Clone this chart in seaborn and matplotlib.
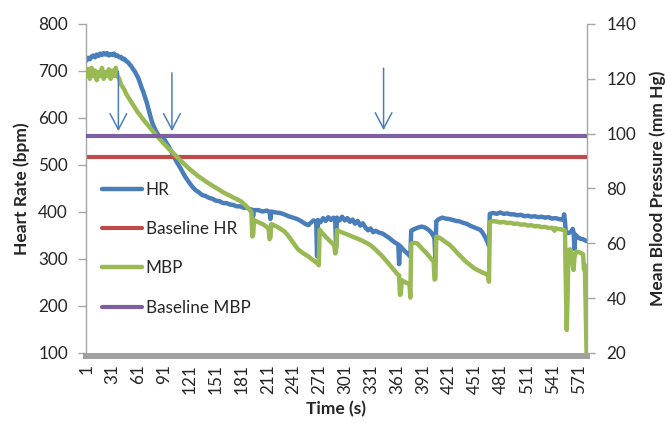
import matplotlib
matplotlib.use("Agg")
import matplotlib.pyplot as plt
import seaborn as sns

# Heart rate (bpm)
hr_time = [1, 3, 5, 7, 9, 11, 13, 15, 17, 19, 21, 23, 25, 27, 29, 31, 33, 35, 37, 39,
           41, 43, 45, 47, 49, 51, 53, 55, 57, 59, 61, 63, 65, 67, 69, 71, 73, 75, 77, 79,
           81, 83, 85, 87, 89, 91, 93, 95, 97, 99, 101, 103,
           106, 109, 112, 115, 118, 121, 124, 127, 131, 135, 139, 143, 147, 151, 155, 159,
           163, 167, 171, 175, 179, 183, 187, 190, 193,
           194, 195, 200, 205, 210, 213, 214, 215, 220, 225,
           230, 235, 240, 245, 250, 255, 258, 260, 264, 267,
           268, 269, 272, 275, 278, 281, 284, 287, 289, 290,
           291, 294, 297, 300, 303, 306, 309, 312, 315, 318,
           321, 324, 327, 330, 333, 336, 340, 344, 348, 352,
           356, 359, 362, 363, 364, 367, 370, 373, 375, 376,
           377, 381, 385, 389, 393, 397, 400, 403, 404, 405, 406, 409, 413, 417,
           421, 425, 429, 433, 437, 441, 445, 449, 453, 457, 460, 463, 466, 467,
           468, 472, 476, 480, 484, 488, 492, 496, 500, 504,
           508, 512, 516, 520, 524, 528, 532, 536, 540, 544,
           548, 551, 553, 554, 555, 556, 559, 562, 564, 565,
           566, 567, 570, 573, 576, 578, 580]
hr_bpm = [722, 728, 725, 731, 733, 729, 735, 732, 737, 734, 738, 735, 738, 733, 736, 734, 737, 732, 733, 729,
          730, 725, 726, 721, 719, 714, 710, 704, 699, 692, 685, 675, 664, 655, 643, 632, 618, 604, 591, 582,
          574, 567, 562, 560, 557, 555, 549, 543, 537, 530, 522, 515,
          505, 496, 486, 476, 468, 460, 453, 447, 442, 436, 434, 430, 428, 424, 423, 419,
          419, 416, 415, 412, 412, 409, 409, 406, 405,
          391, 404, 404, 401, 403, 400, 385, 401, 399, 398,
          395, 391, 388, 385, 380, 374, 372, 376, 382, 380,
          306, 383, 378, 387, 381, 389, 383, 388, 384, 325,
          388, 382, 390, 382, 387, 379, 384, 375, 381, 371,
          376, 367, 361, 365, 357, 360, 356, 354, 349, 344,
          338, 334, 331, 289, 328, 322, 316, 311, 307, 305,
          360, 364, 367, 369, 367, 362, 357, 348, 342, 299, 380, 385, 388, 386,
          385, 383, 381, 380, 377, 375, 371, 368, 365, 362, 355, 345, 333, 328,
          396, 398, 396, 399, 396, 397, 395, 395, 393, 394,
          391, 392, 390, 391, 389, 390, 388, 389, 386, 387,
          385, 384, 383, 395, 380, 358, 355, 358, 364, 356,
          321, 352, 346, 343, 342, 340, 338]

# Mean blood pressure (mm Hg)
mbp_time = [1, 3, 5, 7, 9, 11, 13, 15, 17, 19, 21, 23, 25, 27, 29, 31, 33, 35, 37, 39,
            41, 43, 45, 47, 49, 51, 54, 57, 60, 63, 66, 69, 72, 75, 78, 81, 84, 87, 90, 93,
            96, 99, 102, 105, 108, 111, 114, 117, 120,
            125, 130, 135, 140, 145, 150, 155, 160, 165, 170,
            175, 180, 185, 189, 192, 193, 194, 195, 198, 202,
            206, 210, 212, 213, 214, 215, 218, 222, 226, 230,
            234, 238, 242, 246, 250, 254, 258, 262, 266, 269, 270,
            271, 274, 278, 282, 286, 288, 289, 290, 291, 295,
            300, 305, 310, 315, 320, 325, 330, 334, 338, 342,
            346, 350, 354, 358, 361, 363, 364, 365, 366, 369,
            372, 375, 376, 377,
            380, 384, 388, 392, 396, 400, 403, 404, 405, 406, 410, 414, 418,
            422, 426, 430, 434, 438, 442, 446, 450, 454, 458, 462, 466, 467,
            468, 472, 476, 480, 484, 488, 492, 496, 500, 504,
            508, 512, 516, 520, 524, 528, 532, 536, 540, 543,
            544, 546, 550, 554, 555, 556, 557, 558, 559, 561,
            563, 564, 565, 566, 568, 571, 574, 576, 577, 578,
            579, 580]
mbp_mmhg = [121, 123.5, 120, 124, 121, 123, 119.5, 122.5, 121, 124, 120, 122.5, 121, 123.5, 120, 123, 121, 124, 121, 120,
            118, 117, 116, 114.5, 113.5, 112.5, 111, 109.5, 108, 106.8, 105.5, 104.3, 103.2, 102, 100.9, 99.8, 98.7, 97.6, 96.6, 95.6,
            94.6, 93.7, 92.7, 91.8, 90.8, 89.9, 89, 88.1, 87.2,
            85.9, 84.6, 83.5, 82.4, 81.4, 80.4, 79.5, 78.5, 77.7, 76.9,
            76.1, 75.3, 73.9, 72.5, 71.3, 62.5, 63, 68.5, 68, 67.4,
            66.8, 65.9, 65, 61.5, 62, 67, 66.6, 66, 65.2, 64.4,
            63, 61.3, 59.5, 57.8, 56.8, 56, 55.2, 54.2, 53.3, 52.5, 52,
            65, 63.8, 62.4, 61.1, 59.9, 59.3, 56.3, 57, 64.8, 64.2,
            63.6, 63, 62.3, 61.7, 61, 60.2, 59.3, 58.2, 57, 55.8,
            54.4, 52.9, 51.4, 49.9, 48.8, 48.3, 41.2, 41.5, 46.6, 46,
            45.5, 45.2, 40.2, 59.8,
            60.2, 60, 58.6, 57.3, 55.9, 54.4, 53.3, 46.8, 47, 62.4, 62, 61.1, 60.2,
            59.3, 58, 56.6, 55.3, 54, 52.9, 51.9, 50.9, 50.2, 49.6, 49, 48.3, 46,
            67.8, 68.1, 67.9, 67.6, 67.8, 67.4, 67.5, 67.1, 67.2, 66.8,
            66.9, 66.5, 66.6, 66.2, 66.3, 65.9, 66, 65.6, 65.7, 64.6,
            65.5, 65.3, 65.1, 64.8, 64.6, 45, 28.4, 40, 57.6, 57.8,
            56, 52, 50.3, 55, 57, 56.8, 56.3, 56, 50.5, 52,
            35, 20]

baseline_hr = 517
baseline_mbp = 99

time_ticks = [1, 31, 61, 91, 121, 151, 181, 211, 241, 271, 301, 331,
              361, 391, 421, 451, 481, 511, 541, 571]
hr_ticks = [100, 200, 300, 400, 500, 600, 700, 800]
mbp_ticks = [20, 40, 60, 80, 100, 120, 140]

# blue arrows marking events (time, HR-axis start, HR-axis tip)
arrow_times = [38, 100, 345]
arrow_top = [699, 696, 706]
arrow_tip = [572, 572, 574]

blue = "#4A7EBB"
red = "#BE4B48"
green = "#98B954"
purple = "#7D60A0"
grey = "#A6A6A6"

sns.set_theme(style="white")
plt.rcParams["font.family"] = ["Lato", "DejaVu Sans"]

fig = plt.figure(figsize=(6.65, 4.23), dpi=100)
ax = fig.add_axes([0.1293, 0.1655, 0.7534, 0.7778])
ax2 = ax.twinx()

sns.lineplot(x=hr_time, y=hr_bpm, ax=ax, color=blue, linewidth=3.2)
h_hr = ax.lines[-1]
h_bhr = ax.axhline(baseline_hr, color=red, linewidth=3.0)
sns.lineplot(x=mbp_time, y=mbp_mmhg, ax=ax2, color=green, linewidth=3.2)
h_mbp = ax2.lines[-1]
h_bmbp = ax2.axhline(baseline_mbp, color=purple, linewidth=3.0)

for t, top, tip in zip(arrow_times, arrow_top, arrow_tip):
    ax2.annotate("", xy=(t, tip), xytext=(t, top), xycoords=ax.transData,
                 textcoords=ax.transData,
                 arrowprops=dict(arrowstyle="->,head_length=0.95,head_width=0.5",
                                 color=blue, lw=1.1, shrinkA=0, shrinkB=0))

ax.set_xlim(0.5, 580.5)
ax.set_ylim(100, 800)
ax2.set_ylim(20, 140)
ax.set_xticks(time_ticks)
ax.set_xticklabels([str(t) for t in time_ticks])
ax.set_yticks(hr_ticks)
ax2.set_yticks(mbp_ticks)

ax.tick_params(axis="y", direction="out", length=6, width=1, color=grey,
               pad=7, labelsize=12.3, labelcolor="#262626", left=True)
ax2.tick_params(axis="y", direction="out", length=6, width=1, color=grey,
                pad=8, labelsize=12.3, labelcolor="#262626", right=True)
ax.tick_params(axis="x", length=0, pad=6, labelsize=12.3, labelcolor="#262626",
               labelrotation=90)

for a in (ax, ax2):
    a.spines["top"].set_visible(False)
ax.spines["right"].set_visible(False)
ax2.spines["left"].set_visible(False)
ax2.spines["bottom"].set_visible(False)
ax.spines["left"].set_color(grey)
ax.spines["left"].set_linewidth(1)
ax2.spines["right"].set_color(grey)
ax2.spines["right"].set_linewidth(1)
ax.spines["bottom"].set_color("#A0A0A0")
ax.spines["bottom"].set_linewidth(4.3)
ax.spines["bottom"].set_position(("outward", 2.2))

ax.set_xlabel("Time (s)", fontsize=12.5, fontweight="bold", color="#262626")
ax.set_ylabel("Heart Rate (bpm)", fontsize=12.5, fontweight="bold", color="#262626")
ax2.set_ylabel("Mean Blood Pressure (mm Hg)", fontsize=12.5, fontweight="bold", color="#262626")
ax.yaxis.set_label_coords(-0.111, 0.5)
ax2.yaxis.set_label_coords(1.125, 0.5)
ax.xaxis.set_label_coords(0.5, -0.145)

ax2.legend([h_hr, h_bhr, h_mbp, h_bmbp], ["HR", "Baseline HR", "MBP", "Baseline MBP"],
           loc="upper left", bbox_to_anchor=(102 / 665, (423 - 182) / 423),
           bbox_transform=fig.transFigure, frameon=False, fontsize=12.3,
           handlelength=2.35, handletextpad=0.2, labelspacing=1.36, borderpad=0,
           borderaxespad=0)

fig.savefig("out.png", dpi=100)
